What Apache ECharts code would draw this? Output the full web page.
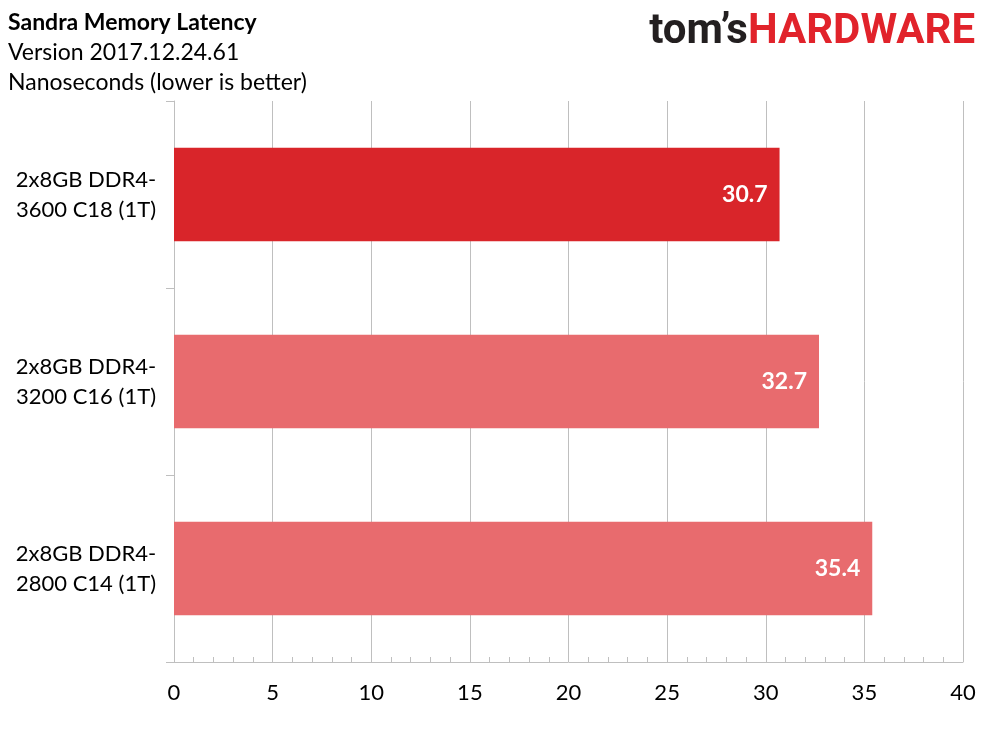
<!DOCTYPE html>
<html><head><meta charset="utf-8">
<script src="https://cdn.jsdelivr.net/npm/echarts@6/dist/echarts.min.js"></script>
<style>html,body{margin:0;padding:0;background:#fff}#c{width:989px;height:742px}</style>
</head><body><div id="c"></div>
<script>
const categories = ['2x8GB DDR4-\n3600 C18 (1T)', '2x8GB DDR4-\n3200 C16 (1T)', '2x8GB DDR4-\n2800 C14 (1T)'];
const values = [30.7, 32.7, 35.4];
const barColors = ['#D9252A', '#E86B6E', '#E86B6E'];
const titleLines = ['Sandra Memory Latency', 'Version 2017.12.24.61', 'Nanoseconds (lower is better)'];

const chart = echarts.init(document.getElementById('c'), null, {renderer: 'canvas'});
const FONT = 'Lato, "Open Sans", sans-serif';
chart.setOption({
  backgroundColor: '#fff',
  animation: false,
  grid: {left: 174, right: 26, top: 101, bottom: 80, containLabel: false},
  graphic: [
    {type: 'text', left: 8, top: 11, style: {text: titleLines[0], font: 'bold 23px ' + FONT, fill: '#000'}},
    {type: 'text', left: 8, top: 41, style: {text: titleLines[1], font: '23px ' + FONT, fill: '#000'}},
    {type: 'text', left: 8, top: 71, style: {text: titleLines[2], font: '23px ' + FONT, fill: '#000'}},
    {type: 'text', right: 14, top: 11, style: {
      rich: {
        a: {fontFamily: 'Roboto, sans-serif', fontWeight: 'bold', fontSize: 42, fill: '#231F20', color: '#231F20'},
        b: {fontFamily: 'Roboto, sans-serif', fontWeight: 'bold', fontSize: 42, fill: '#E1232B', color: '#E1232B'}
      },
      text: '{a|tom\u2019s}{b|HARDWARE}'
    }}
  ],
  xAxis: {
    type: 'value', min: 0, max: 40, interval: 5,
    axisLine: {show: true, lineStyle: {color: '#BFBFBF', width: 1}},
    axisTick: {show: false, inside: true, length: 5, lineStyle: {color: '#BFBFBF'}},
    minorTick: {show: true, splitNumber: 5, length: 5, lineStyle: {color: '#BFBFBF'}},
    splitLine: {show: true, lineStyle: {color: '#BFBFBF', width: 1}},
    axisLabel: {color: '#000', fontSize: 22, fontFamily: FONT, margin: 20}
  },
  yAxis: {
    type: 'category', data: categories, inverse: true,
    axisLine: {show: true, lineStyle: {color: '#BFBFBF', width: 1}},
    axisTick: {show: true, length: 8, lineStyle: {color: '#BFBFBF'}},
    axisLabel: {color: '#000', fontSize: 22, fontFamily: FONT, lineHeight: 30, align: 'center', margin: 88}
  },
  series: [{
    type: 'bar',
    data: values.map((v, i) => ({value: v, itemStyle: {color: barColors[i]}})),
    barWidth: '50%',
    label: {show: true, position: 'insideRight', distance: 12, color: '#fff', fontWeight: 'bold', fontSize: 23, fontFamily: FONT}
  }]
});
</script></body></html>
